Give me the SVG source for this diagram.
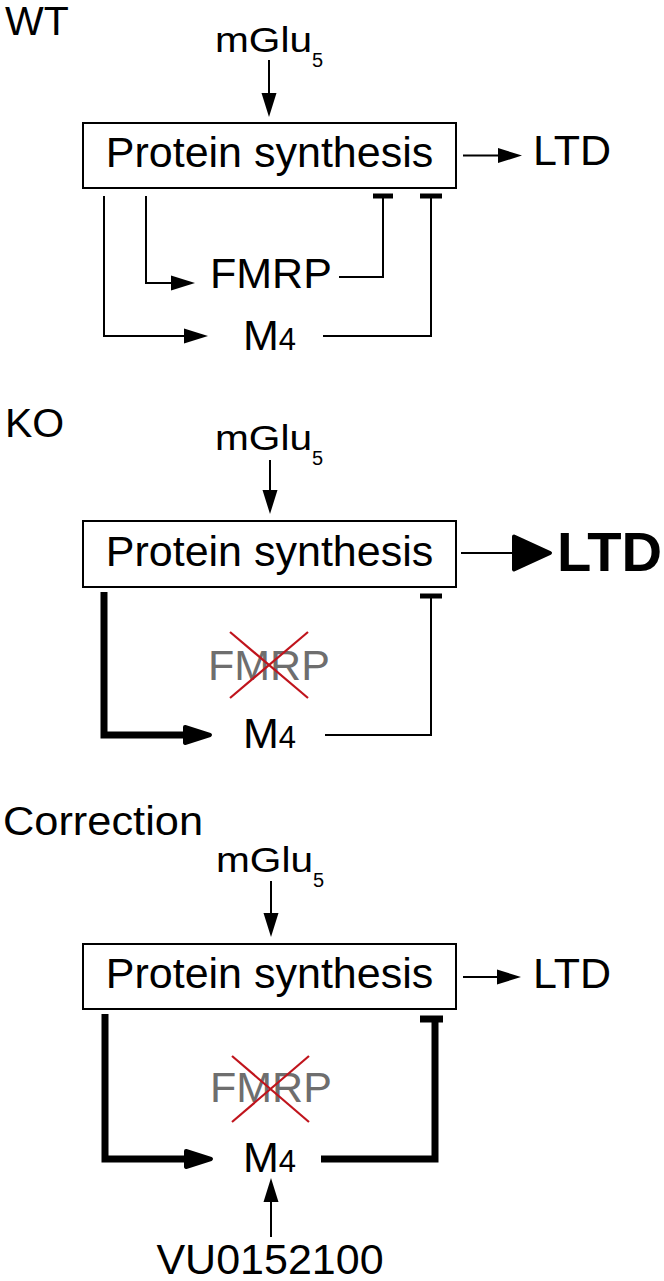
<svg xmlns="http://www.w3.org/2000/svg" width="664" height="1281" viewBox="0 0 664 1281">
<style>
text{font-family:"Liberation Sans",Arial,Helvetica,sans-serif;fill:#000}
.lbl{font-size:41px}
.big{font-size:43px}
.mg{font-size:35px}
.sub{font-size:20px}
.gr{fill:#6e6e6e}
.box{fill:#fff;stroke:#000;stroke-width:2}
.ln{fill:none;stroke:#000;stroke-width:2}
.th{fill:none;stroke:#000;stroke-width:7}
.tee{fill:none;stroke:#000;stroke-width:5}
.x{stroke:#c0141c;stroke-width:2.2}
</style>
<defs>
<marker id="ah" markerUnits="userSpaceOnUse" markerWidth="26" markerHeight="16" refX="1" refY="7.5" orient="auto" overflow="visible"><path d="M0,0 L24,7.5 L0,15 Z" fill="#000"/></marker>
<marker id="ahT" markerUnits="userSpaceOnUse" markerWidth="30" markerHeight="20" refX="2" refY="10" orient="auto" overflow="visible"><path d="M2,2 L27,10 L2,18 Z" fill="#000" stroke="#000" stroke-width="4" stroke-linejoin="round"/></marker>
<marker id="ahB" markerUnits="userSpaceOnUse" markerWidth="40" markerHeight="37" refX="3" refY="18.5" orient="auto" overflow="visible"><path d="M2,2 L38,18.5 L2,35 Z" fill="#000" stroke="#000" stroke-width="4" stroke-linejoin="round"/></marker>
</defs>

<!-- WT -->
<g id="wt-label"><text class="lbl" x="5" y="35">WT</text></g>
<g id="wt-mglu5"><text class="mg"><tspan x="215" y="52" textLength="97" lengthAdjust="spacingAndGlyphs">mGlu</tspan><tspan class="sub" x="312" y="67">5</tspan></text></g>
<g id="wt-protein"><rect class="box" x="83" y="123" width="373" height="65"/><text class="big" x="269.5" y="167" text-anchor="middle">Protein synthesis</text></g>
<g id="wt-ltd"><text class="big" x="533" y="165" font-size="42">LTD</text></g>
<g id="wt-fmrp"><text class="big" x="210" y="288" font-size="42">FMRP</text></g>
<g id="wt-m4"><text class="big" x="243" y="350">M<tspan font-size="31">4</tspan></text></g>

<!-- KO -->
<g id="ko-label"><text class="lbl" x="5" y="437">KO</text></g>
<g id="ko-mglu5"><text class="mg"><tspan x="215" y="450" textLength="97" lengthAdjust="spacingAndGlyphs">mGlu</tspan><tspan class="sub" x="312" y="465">5</tspan></text></g>
<g id="ko-protein"><rect class="box" x="83" y="521" width="373" height="66"/><text class="big" x="269.5" y="566" text-anchor="middle">Protein synthesis</text></g>
<g id="ko-ltd"><text x="557" y="571" font-size="56" font-weight="bold" textLength="105" lengthAdjust="spacingAndGlyphs">LTD</text></g>
<g id="ko-fmrp"><text class="big gr" x="208" y="680" font-size="42">FMRP</text><line class="x" x1="230" y1="632" x2="308" y2="698"/><line class="x" x1="308" y1="632" x2="230" y2="698"/></g>
<g id="ko-m4"><text class="big" x="243" y="748">M<tspan font-size="31">4</tspan></text></g>

<!-- Correction -->
<g id="cor-label"><text class="lbl" x="3" y="835" textLength="200" lengthAdjust="spacingAndGlyphs">Correction</text></g>
<g id="cor-mglu5"><text class="mg"><tspan x="216" y="872" textLength="97" lengthAdjust="spacingAndGlyphs">mGlu</tspan><tspan class="sub" x="313" y="887">5</tspan></text></g>
<g id="cor-protein"><rect class="box" x="83" y="944" width="373" height="65"/><text class="big" x="269.5" y="988" text-anchor="middle">Protein synthesis</text></g>
<g id="cor-ltd"><text class="big" x="533" y="988" font-size="42">LTD</text></g>
<g id="cor-fmrp"><text class="big gr" x="210" y="1102" font-size="42">FMRP</text><line class="x" x1="232" y1="1056" x2="309" y2="1122"/><line class="x" x1="309" y1="1056" x2="232" y2="1122"/></g>
<g id="cor-m4"><text class="big" x="243" y="1172">M<tspan font-size="31">4</tspan></text></g>
<g id="cor-vu"><text class="big" x="270" y="1274" font-size="42" text-anchor="middle">VU0152100</text></g>

<g id="connectors">
<!-- WT -->
<path class="ln" d="M269,60 V94" marker-end="url(#ah)"/>
<path class="ln" d="M463,155.5 H499" marker-end="url(#ah)"/>
<path class="ln" d="M104,196 V336 H185" marker-end="url(#ah)"/>
<path class="ln" d="M146,196 V283 H172" marker-end="url(#ah)"/>
<path class="ln" d="M339,277 H383 V196"/>
<path class="tee" d="M373,196 H393"/>
<path class="ln" d="M323,336 H431 V196"/>
<path class="tee" d="M420,196 H442"/>
<!-- KO -->
<path class="ln" d="M270,460 V491" marker-end="url(#ah)"/>
<path class="ln" d="M461,553 H515" stroke-width="10" marker-end="url(#ahB)"/>
<path class="th" d="M104,592 V735 H185" marker-end="url(#ahT)"/>
<path class="ln" d="M325,735 H431 V596"/>
<path class="tee" d="M420,596 H442"/>
<!-- Correction -->
<path class="ln" d="M271,881 V914" marker-end="url(#ah)"/>
<path class="ln" d="M463,977 H498" marker-end="url(#ah)"/>
<path class="th" d="M105,1014 V1159 H186" marker-end="url(#ahT)"/>
<path class="th" d="M321,1159 H435 V1019"/>
<path class="th" d="M420,1019 H443" stroke-width="8"/>
<path class="ln" d="M271,1237 V1201" marker-end="url(#ah)"/>
</g>
</svg>
